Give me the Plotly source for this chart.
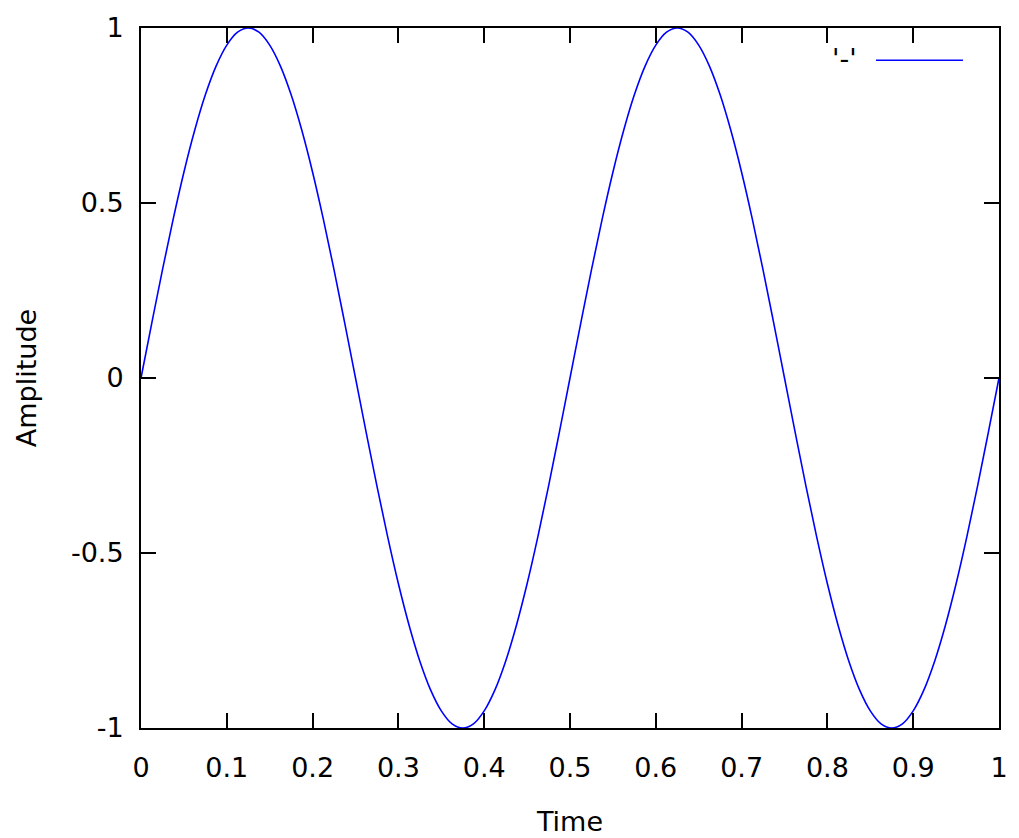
import plotly.graph_objects as go

# samples of the curve (step 0.0125 in time)
time = [i * 0.0125 for i in range(81)]
quarter = [0.0, 0.156, 0.309, 0.454, 0.588, 0.707, 0.809, 0.891, 0.951, 0.988, 1.0]
half_up = quarter + [0.988, 0.951, 0.891, 0.809, 0.707, 0.588, 0.454, 0.309, 0.156]
period = half_up + [-v for v in half_up]
amplitude = period + period + [0.0]

x_ticks = [0, 0.1, 0.2, 0.3, 0.4, 0.5, 0.6, 0.7, 0.8, 0.9, 1]
x_labels = ["0", "0.1", "0.2", "0.3", "0.4", "0.5", "0.6", "0.7", "0.8", "0.9", "1"]
y_ticks = [-1, -0.5, 0, 0.5, 1]
y_labels = ["-1", "-0.5", "0", "0.5", "1"]

FONT = "DejaVu Sans"
FSIZE = 27
BLUE = "#0000ff"

fig = go.Figure(
    go.Scatter(
        x=time,
        y=amplitude,
        mode="lines",
        line={"color": BLUE, "width": 1.6, "shape": "spline"},
        name="'-'",
        hoverinfo="x+y",
    )
)

axis_common = dict(
    showgrid=False,
    zeroline=False,
    showline=True,
    linecolor="black",
    linewidth=2,
    mirror="ticks",
    ticks="inside",
    ticklen=15,
    tickwidth=1.5,
    tickcolor="black",
    automargin=False,
    tickfont={"family": FONT, "size": FSIZE, "color": "black"},
    title_font={"family": FONT, "size": FSIZE, "color": "black"},
)

fig.update_xaxes(
    range=[0, 1],
    tickvals=x_ticks,
    ticktext=x_labels,
    title_text="Time",
    ticklabelstandoff=15,
    title_standoff=30,
    **axis_common,
)
fig.update_yaxes(
    range=[-1, 1],
    tickvals=y_ticks,
    ticktext=y_labels,
    title_text="Amplitude",
    ticklabelstandoff=10,
    title_standoff=26,
    **axis_common,
)

# gnuplot-style key: label on the left, line sample on the right
fig.add_annotation(
    x=0.8205, y=0.957, xref="paper", yref="paper",
    xanchor="center", yanchor="middle",
    text="'-'", showarrow=False,
    font={"family": FONT, "size": FSIZE, "color": "black"},
)
fig.add_shape(
    type="line", xref="paper", yref="paper",
    x0=0.8566, x1=0.958, y0=0.954, y1=0.954,
    line={"color": BLUE, "width": 1.6},
)

fig.update_layout(
    width=1019,
    height=838,
    showlegend=False,
    plot_bgcolor="white",
    paper_bgcolor="white",
    margin={"l": 141, "r": 20, "t": 28, "b": 110},
)

# drop the default body margin so the figure sits at the page origin
fig.write_html(
    "out.html",
    config={"displayModeBar": False},
    post_script="document.body.style.margin='0';document.body.style.overflow='hidden';",
)
